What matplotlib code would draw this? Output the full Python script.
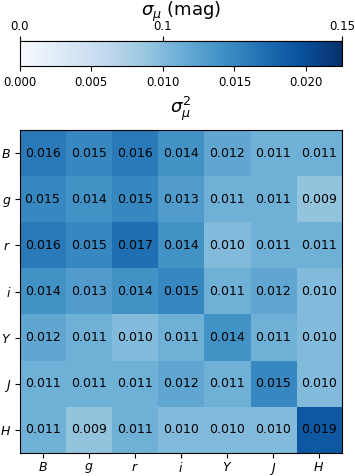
import numpy as np
import matplotlib
matplotlib.use('Agg')
import matplotlib.pyplot as plt

bands = ['B', 'g', 'r', 'i', 'Y', 'J', 'H']
cov = np.array([
    [0.016, 0.015, 0.016, 0.014, 0.012, 0.011, 0.011],
    [0.015, 0.014, 0.015, 0.013, 0.011, 0.011, 0.009],
    [0.016, 0.015, 0.017, 0.014, 0.010, 0.011, 0.011],
    [0.014, 0.013, 0.014, 0.015, 0.011, 0.012, 0.010],
    [0.012, 0.011, 0.010, 0.011, 0.014, 0.011, 0.010],
    [0.011, 0.011, 0.011, 0.012, 0.011, 0.015, 0.010],
    [0.011, 0.009, 0.011, 0.010, 0.010, 0.010, 0.019],
])
sigma_ticks = [0.0, 0.1, 0.15]
var_ticks = [0.0, 0.005, 0.010, 0.015, 0.020]
vmax = 0.15 ** 2

fig = plt.figure(figsize=(3.55, 4.76), dpi=100)
ax = fig.add_axes([19.5 / 355, 23 / 476, 322.5 / 355, 323 / 476])
cax = fig.add_axes([19.5 / 355, 1 - 66 / 476, 322.5 / 355, 25 / 476])

im = ax.imshow(cov, cmap='Blues', vmin=0, vmax=vmax, aspect='auto')
for i in range(len(bands)):
    for j in range(len(bands)):
        ax.text(j, i, '%.3f' % cov[i, j], ha='center', va='center', fontsize=9)
ax.set_xticks(range(len(bands)))
ax.set_yticks(range(len(bands)))
ax.set_xticklabels(['$%s$' % b for b in bands], fontsize=9)
ax.set_yticklabels(['$%s$' % b for b in bands], fontsize=9)
ax.tick_params(axis='x', pad=2.5)
ax.tick_params(axis='y', pad=2.5)

cb = fig.colorbar(im, cax=cax, orientation='horizontal')
cb.set_ticks(var_ticks)
cb.ax.tick_params(labelsize=8.5)
cb.set_label(r'$\sigma_\mu^2$', fontsize=13)

top = cax.secondary_xaxis('top')
top.set_xticks([s ** 2 for s in sigma_ticks])
top.set_xticklabels([str(s) for s in sigma_ticks], fontsize=8.5)
top.tick_params(pad=2.5)
top.set_xlabel(r'$\sigma_\mu$ (mag)', fontsize=13, labelpad=2.5)

fig.savefig('out.png', dpi=100)
